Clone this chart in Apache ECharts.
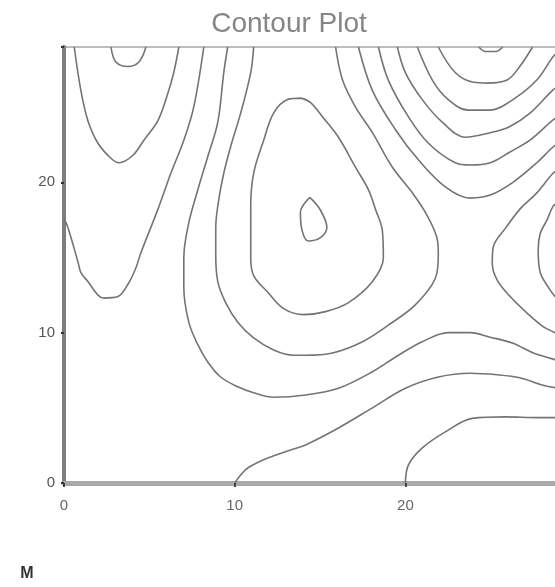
<!DOCTYPE html>
<html>
<head>
<meta charset="utf-8">
<script src="https://cdn.jsdelivr.net/npm/echarts@6/dist/echarts.min.js"></script>
<style>
html,body{margin:0;padding:0;background:#fff;}
#chart{width:555px;height:587px;}
</style>
</head>
<body>
<div id="chart"></div>
<script>
// Axis setup
const xTicks = [0, 10, 20];
const yTicks = [0, 10, 20];
const axisMax = 29;

// Contour lines, as [x, y] pairs in data units
const contourV = [[0.6,29],[0.99,26.1],[1.4,24.1],[1.99,22.6],[2.75,21.6],[3.22,21.3],[4.04,21.8],[4.68,22.8],[5.5,24.1],[6.08,25.9],[6.43,27.3],[6.73,29]];
const contourCupLeft = [[2.75,29],[3.04,28.0],[3.74,27.7],[4.39,28.0],[4.8,29]];
const contourC = [[8.19,29],[7.6,25.0],[7.02,22.8],[6.26,20.6],[5.5,18.2],[4.5,15.3],[4.21,14.3],[3.74,13.2],[3.16,12.4],[2.34,12.3],[1.99,12.5],[1.4,13.4],[0.99,14.0],[0.82,14.7],[0.23,17.0],[0,17.6]];
const contourD = [[9.59,29],[9.36,27.3],[9.01,24.0],[8.42,21.7],[7.84,19.5],[7.31,17.3],[7.02,15.0],[7.02,13.0],[7.31,10.7],[7.84,9.2],[8.42,8.05],[9.18,7.05],[10.18,6.4],[11.11,6.0],[12.28,5.7],[14.15,5.85],[16.08,6.3],[18.07,7.4],[19.59,8.5],[20.99,9.4],[22.51,10.0],[23.8,10.0],[24.97,9.7],[26.3,9.3],[27.5,8.65],[28.77,8.2],[29,8.1]];
const contourE = [[11.11,29],[10.94,27.3],[10.35,24.6],[9.77,22.4],[9.36,20.6],[9.06,18.8],[8.89,17.0],[8.89,15.2],[9.01,13.4],[9.47,12.0],[10.18,10.7],[11.11,9.65],[12.28,8.85],[13.45,8.5],[14.15,8.5],[15.73,8.65],[17.49,9.4],[19.0,10.5],[20.58,11.85],[21.75,13.6],[21.93,15.2],[21.87,16.2],[21.17,18.0],[20.41,19.3],[19.24,21.0],[18.07,23.3],[17.08,25.0],[16.32,26.8],[15.91,29]];
const contourF = [[13.9,25.6],[13.1,25.5],[12.28,24.6],[11.7,22.8],[11.11,20.6],[10.94,18.4],[10.94,15.0],[11.11,13.8],[11.93,12.7],[12.87,11.6],[14.04,11.2],[15.32,11.4],[16.67,12.0],[18.07,13.4],[18.71,15.0],[18.65,16.8],[18.25,18.2],[17.84,19.5],[17.08,21.0],[16.08,23.0],[15.15,24.35],[14.45,25.3],[13.9,25.6]];
const contourPeak = [[14.4,19.0],[15.0,18.2],[15.4,17.0],[15.0,16.3],[14.3,16.1],[13.95,16.8],[13.85,18.0],[14.4,19.0]];
const contourCup1 = [[21.93,29],[22.92,27.3],[24.0,26.65],[24.8,26.6],[25.96,26.8],[26.7,27.7],[27.45,29]];
const contourTiny = [[24.3,29],[24.7,28.7],[25.3,28.7],[25.7,29]];
const contourCup2 = [[20.7,29],[21.58,26.8],[22.51,25.5],[23.68,24.8],[24.97,24.8],[26.3,25.5],[27.7,26.8],[28.65,28.35],[29,28.7]];
const contourCup3 = [[19.53,29],[20.0,27.3],[20.99,25.5],[22.16,24.0],[23.51,23.0],[24.97,23.3],[26.1,23.7],[27.3,24.6],[28.65,26.15],[29,26.4]];
const contourCup4 = [[18.42,29],[19.0,26.8],[20.18,24.35],[21.35,22.6],[22.92,21.3],[23.8,21.15],[24.97,21.3],[26.1,22.0],[27.3,22.8],[28.65,24.15],[29,24.4]];
const contourCup5 = [[17.25,29],[18.07,26.1],[19.42,23.5],[20.76,21.5],[22.34,19.7],[23.8,18.95],[24.97,19.15],[26.3,20.0],[27.7,21.3],[28.65,22.35],[29,22.6]];
const contourParen = [[29,20.85],[28.65,20.6],[27.7,19.3],[26.7,18.2],[25.9,17.0],[25.15,15.7],[25.09,14.6],[25.38,13.5],[26.14,12.4],[27.13,11.3],[28.07,10.4],[28.77,10.0],[29,9.9]];
const contourInnerRight = [[29,18.7],[28.65,18.4],[28.3,17.5],[27.9,16.6],[27.78,15.5],[27.9,14.0],[28.36,13.05],[28.77,12.4],[29,12.2]];
const contourG = [[10.0,0],[10.35,0.53],[10.76,1.0],[11.93,1.66],[13.27,2.2],[14.15,2.53],[16.08,3.66],[18.07,5.0],[20.0,6.3],[21.93,7.05],[23.8,7.3],[25.38,7.2],[26.7,7.0],[28.07,6.5],[29,6.3]];
const contourH = [[20.0,0],[20.18,1.2],[20.99,2.33],[22.34,3.4],[23.92,4.3],[25.85,4.4],[27.78,4.35],[29,4.35]];

const contours = [contourV, contourCupLeft, contourC, contourD, contourE, contourF, contourPeak,
  contourCup1, contourTiny, contourCup2, contourCup3, contourCup4, contourCup5,
  contourParen, contourInnerRight, contourG, contourH];

const chart = echarts.init(document.getElementById('chart'), null, {renderer: 'canvas'});
const lineColor = '#747474';

const option = {
  animation: false,
  backgroundColor: '#ffffff',
  textStyle: {fontFamily: 'Liberation Sans, Arial, sans-serif'},
  grid: {
    left: 64, top: 47, width: 495, height: 436,
    containLabel: false, outerBoundsMode: 'none',
    show: true, borderColor: '#bdbdbd', borderWidth: 2, backgroundColor: 'transparent'
  },
  xAxis: {
    type: 'value', min: 0, max: axisMax, interval: 10,
    axisLine: {show: true, onZero: false, lineStyle: {color: '#a9a9a9', width: 5}},
    axisTick: {show: true, length: 4, lineStyle: {color: '#444', width: 2}},
    axisLabel: {
      margin: 15, fontSize: 15, color: '#666',
      formatter: v => xTicks.indexOf(v) >= 0 ? String(v) : ''
    },
    splitLine: {show: false}
  },
  yAxis: {
    type: 'value', min: 0, max: axisMax, interval: 10,
    axisLine: {show: true, onZero: false, lineStyle: {color: '#7d7d7d', width: 4}},
    axisTick: {show: true, length: 3, lineStyle: {color: '#333', width: 2}},
    axisLabel: {
      margin: 9, fontSize: 15, color: '#555',
      formatter: v => yTicks.indexOf(v) >= 0 ? String(v) : ''
    },
    splitLine: {show: false}
  },
  series: contours.map((c, i) => ({
    type: 'line',
    name: 'contour' + i,
    data: c,
    smooth: 0.35,
    showSymbol: false,
    symbol: 'none',
    clip: true,
    lineStyle: {color: lineColor, width: 1.6},
    z: 3
  })),
  graphic: [
    {type: 'text', x: 289, y: 24, z: 10,
     style: {text: 'Contour Plot', fill: '#858585', fontSize: 28, fontFamily: 'Liberation Sans, Arial, sans-serif',
             textAlign: 'center', textVerticalAlign: 'middle'}},
    {type: 'text', x: 27, y: 574, z: 10,
     style: {text: 'M', fill: '#333', fontSize: 16, fontWeight: 'bold', fontFamily: 'Liberation Sans, Arial, sans-serif',
             textAlign: 'center', textVerticalAlign: 'middle'}}
  ]
};
chart.setOption(option);
</script>
</body>
</html>
